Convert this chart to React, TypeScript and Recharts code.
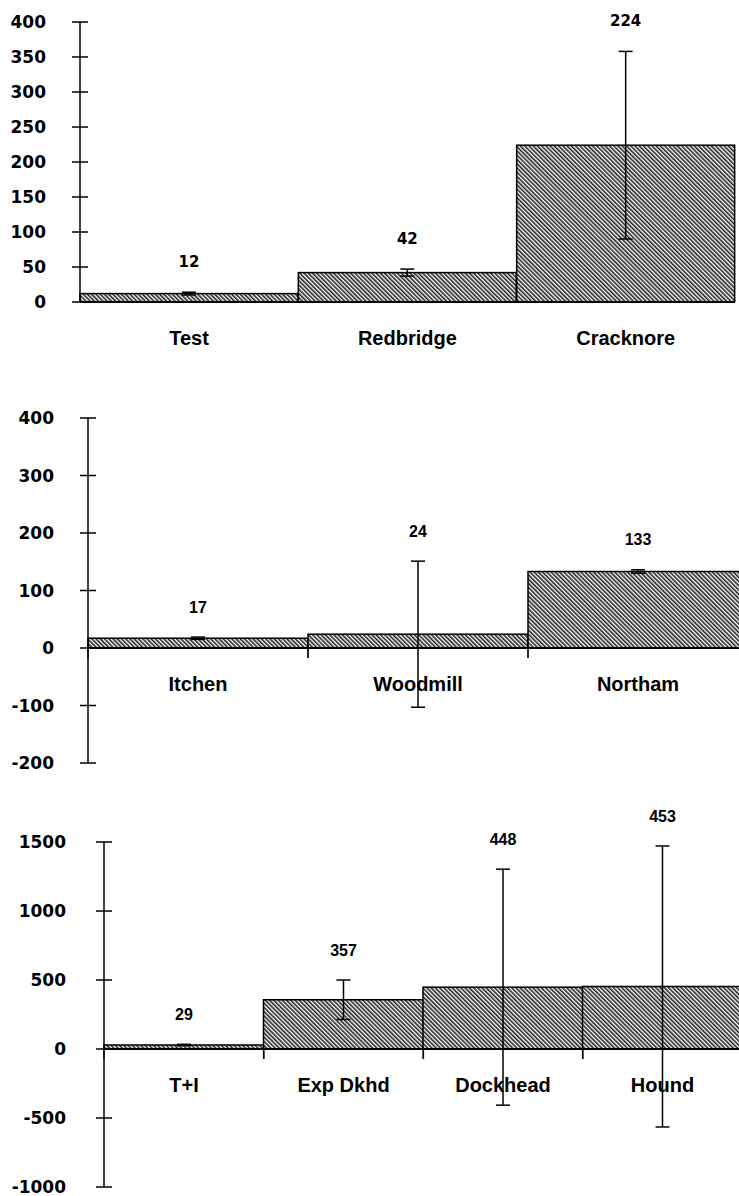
import React from 'react';
import {
  BarChart,
  Bar,
  XAxis,
  YAxis,
  ErrorBar,
  LabelList,
  ReferenceLine,
} from 'recharts';

// upper panel
const westNames = ['Test', 'Redbridge', 'Cracknore'];
const westValues = [12, 42, 224];
const westErrors = [2, 5, 134];
const westTicks = [0, 50, 100, 150, 200, 250, 300, 350, 400];

// middle panel
const itchenNames = ['Itchen', 'Woodmill', 'Northam'];
const itchenValues = [17, 24, 133];
const itchenErrors = [2, 127, 3];
const itchenTicks = [-200, -100, 0, 100, 200, 300, 400];

// lower panel
const dockNames = ['T+I', 'Exp Dkhd', 'Dockhead', 'Hound'];
const dockValues = [29, 357, 448, 453];
const dockErrors = [5, 143, 855, 1018];
const dockTicks = [-1000, -500, 0, 500, 1000, 1500];

const TICK_FONT = "'DejaVu Sans', sans-serif";
const TEXT_FONT = "'Liberation Sans', Arial, sans-serif";

type Row = { name: string; value: number; err: number };

const toRows = (names: string[], values: number[], errs: number[]): Row[] =>
  names.map((name, i) => ({ name, value: values[i], err: errs[i] }));

// hatched bar with small boundary ticks below the zero line
const HatchBar = (props: any) => {
  const { x, y, width, height } = props;
  const base = y + height;
  return (
    <g>
      <rect
        x={x}
        y={y}
        width={width}
        height={height}
        fill="url(#hatch)"
        stroke="#000"
        strokeWidth={1.5}
      />
      <line x1={x} x2={x} y1={base - 2} y2={base + 10} stroke="#000" strokeWidth={1.2} />
      <line x1={x + width} x2={x + width} y1={base - 2} y2={base + 10} stroke="#000" strokeWidth={1.2} />
    </g>
  );
};

const makeYTick = (gap: number, size: number) => (props: any) => {
  const { x, y, payload } = props;
  return (
    <g>
      <line x1={x - 8} x2={x + 8} y1={y} y2={y} stroke="#000" strokeWidth={1.5} />
      <text
        x={x - gap}
        y={y}
        textAnchor="end"
        dominantBaseline="central"
        fontFamily={TICK_FONT}
        fontWeight="bold"
        fontSize={size}
        fill="#000"
      >
        {payload.value}
      </text>
    </g>
  );
};

const makeValueLabel = (rows: Row[], font: string, size: number) => (props: any) => {
  const vb = props.viewBox || {};
  const x = props.x ?? vb.x;
  const y = props.y ?? vb.y;
  const width = props.width ?? vb.width;
  const height = props.height ?? vb.height;
  const row = rows[props.index];
  const perUnit = row.value ? height / row.value : 0;
  const top = Math.min(y, y - row.err * perUnit);
  return (
    <text
      x={x + width / 2}
      y={top - 30}
      textAnchor="middle"
      dominantBaseline="central"
      fontFamily={font}
      fontWeight="bold"
      fontSize={size}
      fill="#000"
    >
      {row.value}
    </text>
  );
};

const makeNameLabel = (rows: Row[], size: number) => (props: any) => {
  const vb = props.viewBox || {};
  const x = props.x ?? vb.x;
  const y = props.y ?? vb.y;
  const width = props.width ?? vb.width;
  const height = props.height ?? vb.height;
  const row = rows[props.index];
  return (
    <text
      x={x + width / 2}
      y={y + height + 36}
      textAnchor="middle"
      dominantBaseline="central"
      fontFamily={TEXT_FONT}
      fontWeight="bold"
      fontSize={size}
      fill="#000"
    >
      {row.name}
    </text>
  );
};

type PanelProps = {
  rows: Row[];
  ticks: number[];
  top: number;
  width: number;
  height: number;
  margin: { top: number; bottom: number; right: number };
  axisWidth: number;
  gap: number;
  valueFont: string;
  valueSize: number;
};

function Panel({ rows, ticks, top, width, height, margin, axisWidth, gap, valueFont, valueSize }: PanelProps) {
  return (
    <div style={{ position: 'absolute', left: 0, top }}>
      <BarChart
        width={width}
        height={height}
        data={rows}
        margin={{ top: margin.top, bottom: margin.bottom, left: 0, right: margin.right }}
        barCategoryGap={0}
        barGap={0}
      >
        <defs>
          <pattern
            id="hatch"
            width={3}
            height={3}
            patternUnits="userSpaceOnUse"
            patternTransform="rotate(-45)"
          >
            <rect width={3} height={3} fill="#fff" />
            <rect width={1.6} height={3} fill="#222" />
          </pattern>
        </defs>
        <XAxis dataKey="name" hide />
        <YAxis
          width={axisWidth}
          domain={[ticks[0], ticks[ticks.length - 1]]}
          ticks={ticks}
          interval={0}
          tickLine={false}
          tickSize={0}
          tickMargin={0}
          axisLine={{ stroke: '#000', strokeWidth: 1.5 }}
          tick={makeYTick(gap, 17)}
          allowDataOverflow
        />
        <Bar dataKey="value" shape={HatchBar} isAnimationActive={false}>
          <ErrorBar dataKey="err" width={7} stroke="#000" strokeWidth={1.5} direction="y" />
          <LabelList dataKey="value" content={makeValueLabel(rows, valueFont, valueSize)} />
          <LabelList dataKey="name" content={makeNameLabel(rows, 20)} />
        </Bar>
        <ReferenceLine y={0} stroke="#000" strokeWidth={2} />
      </BarChart>
    </div>
  );
}

export default function App() {
  const west = toRows(westNames, westValues, westErrors);
  const itchen = toRows(itchenNames, itchenValues, itchenErrors);
  const dock = toRows(dockNames, dockValues, dockErrors);
  return (
    <div
      style={{
        position: 'absolute',
        left: 0,
        top: 0,
        width: 739,
        height: 1196,
        overflow: 'hidden',
        background: '#fff',
      }}
    >
      <Panel
        rows={west}
        ticks={westTicks}
        top={0}
        width={739}
        height={370}
        margin={{ top: 22, bottom: 68, right: 4 }}
        axisWidth={80}
        gap={34}
        valueFont={TICK_FONT}
        valueSize={15}
      />
      <Panel
        rows={itchen}
        ticks={itchenTicks}
        top={370}
        width={748}
        height={410}
        margin={{ top: 48, bottom: 17, right: 0 }}
        axisWidth={88}
        gap={34}
        valueFont={TEXT_FONT}
        valueSize={16}
      />
      <Panel
        rows={dock}
        ticks={dockTicks}
        top={770}
        width={742}
        height={426}
        margin={{ top: 72, bottom: 9, right: 0 }}
        axisWidth={104}
        gap={38}
        valueFont={TEXT_FONT}
        valueSize={16}
      />
    </div>
  );
}
